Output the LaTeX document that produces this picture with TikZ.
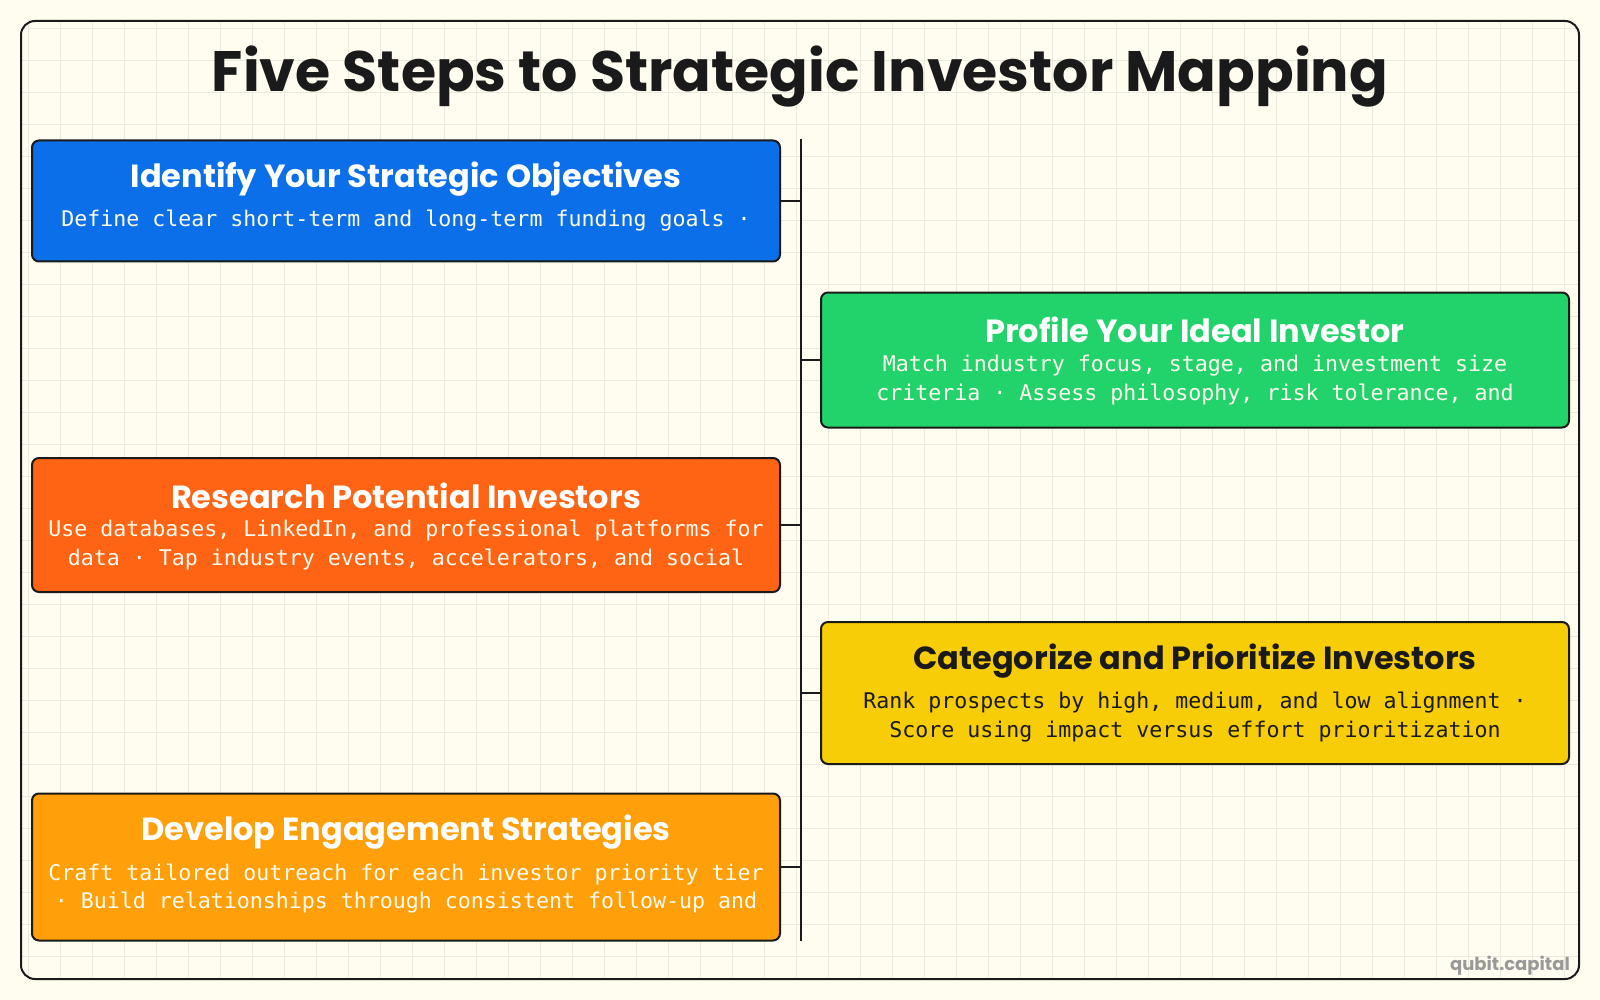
\documentclass[tikz,border=0pt]{standalone}
\usepackage{fontspec}
\setmainfont{Poppins}
\newfontfamily\headfont{Poppins}
\newfontfamily\bodyfont{DejaVu Sans Mono}
\definecolor{bgout}{HTML}{FFFDF0}
\definecolor{bgin}{HTML}{FFFDF0}
\definecolor{gridc}{HTML}{ECEADC}
\definecolor{ink}{HTML}{1A1A1A}
\definecolor{cblue}{HTML}{0A6FE8}
\definecolor{cgreen}{HTML}{22D36C}
\definecolor{cred}{HTML}{FF6414}
\definecolor{cyellow}{HTML}{F7CD08}
\definecolor{corange}{HTML}{FF9F0A}
\definecolor{lighttxt}{HTML}{FFFBEF}
\definecolor{wm}{HTML}{999999}
\tikzset{
  stepbox/.style={draw=ink, line width=2pt, rounded corners=7pt, minimum width=748pt, inner sep=0pt},
  boxtitle/.style={font=\headfont\bfseries\fontsize{32}{38}\selectfont, inner sep=0pt, anchor=center},
  boxbody/.style={font=\bodyfont\fontsize{21.6}{28.6}\selectfont, inner sep=0pt, align=center, anchor=center},
  link/.style={draw=ink, line width=2pt},
}
\begin{document}
\begin{tikzpicture}[x=1pt,y=-1pt]
\useasboundingbox (0,0) rectangle (1600,1000);
\fill[bgout] (0,0) rectangle (1600,1000);
\begin{scope}
\clip[rounded corners=14pt] (21,21) rectangle (1579,979);
\fill[bgin] (21,21) rectangle (1579,979);
\foreach \gx in {28,60,...,1580} \draw[gridc, line width=0.8pt] (\gx,21) -- (\gx,979);
\foreach \gy in {28,60,...,980} \draw[gridc, line width=0.8pt] (21,\gy) -- (1579,\gy);
\end{scope}
\draw[ink, line width=2pt, rounded corners=14pt] (21,21) rectangle (1579,979);

\node[font=\headfont\bfseries\fontsize{57}{66}\selectfont, text=ink, inner sep=0pt] (title) at (800,77) {Five Steps to Strategic Investor Mapping};

% boxes
\node[stepbox, fill=cblue, minimum height=121pt] (b1) at (406,201) {};
\node[stepbox, fill=cgreen, minimum height=135pt] (b2) at (1195,360) {};
\node[stepbox, fill=cred, minimum height=134pt] (b3) at (406,525) {};
\node[stepbox, fill=cyellow, minimum height=142pt] (b4) at (1195,693) {};
\node[stepbox, fill=corange, minimum height=147pt] (b5) at (406,867) {};

% texts
\node[boxtitle, text=white] (t1) at (406,179.5) {Identify Your Strategic Objectives};
\node[boxbody, text=lighttxt] (d1) at (406,221) {Define clear short-term and long-term funding goals ·};

\node[boxtitle, text=white] (t2) at (1195,330) {Profile Your Ideal Investor};
\node[boxbody, text=lighttxt] (d2) at (1195,380) {Match industry focus, stage, and investment size\\criteria · Assess philosophy, risk tolerance, and};

\node[boxtitle, text=white] (t3) at (406,495.5) {Research Potential Investors};
\node[boxbody, text=lighttxt] (d3) at (406,545) {Use databases, LinkedIn, and professional platforms for\\data · Tap industry events, accelerators, and social};

\node[boxtitle, text=ink] (t4) at (1195,661) {Categorize and Prioritize Investors};
\node[boxbody, text=ink] (d4) at (1195,717) {Rank prospects by high, medium, and low alignment ·\\Score using impact versus effort prioritization};

\node[boxtitle, text=white] (t5) at (406,832.5) {Develop Engagement Strategies};
\node[boxbody, text=lighttxt] (d5) at (406,888.5) {Craft tailored outreach for each investor priority tier\\· Build relationships through consistent follow-up and};

% spine
\coordinate (sTop) at (801,139);
\coordinate (sBot) at (801,941);
\draw[link] (sTop) -- (sBot);
\draw[link] (b1.east) -- (b1.east -| sTop);
\draw[link] (b2.west) -- (b2.west -| sTop);
\draw[link] (b3.east) -- (b3.east -| sTop);
\draw[link] (b4.west) -- (b4.west -| sTop);
\draw[link] (b5.east) -- (b5.east -| sTop);

\node[font=\headfont\bfseries\fontsize{18}{22}\selectfont, text=wm, anchor=east, inner sep=0pt] (wmark) at (1570,966) {qubit.capital};
\end{tikzpicture}
\end{document}
